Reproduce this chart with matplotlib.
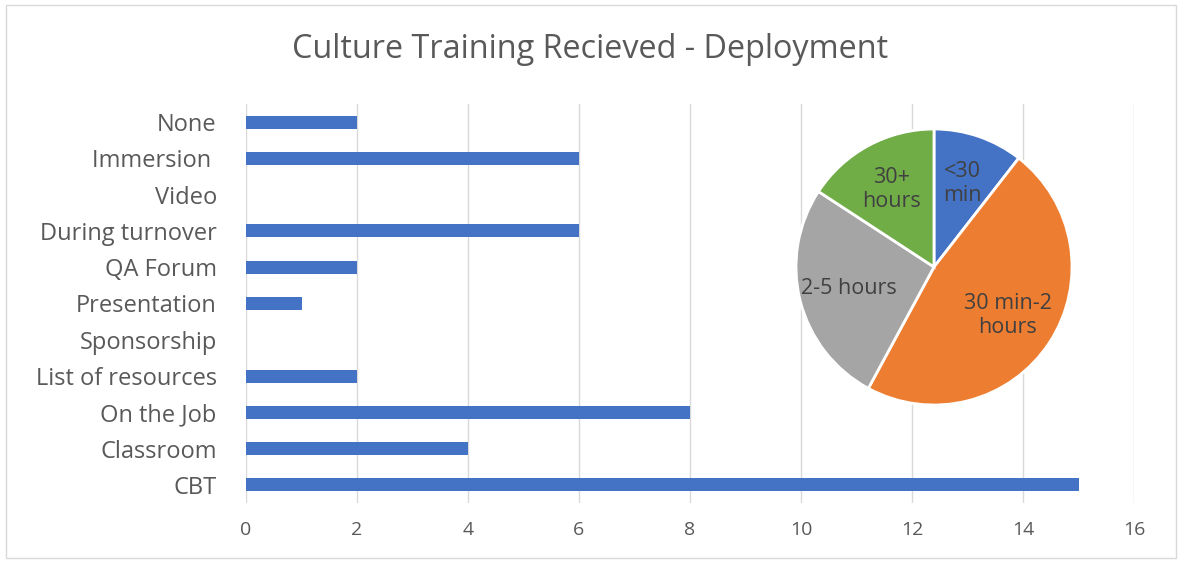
import matplotlib.pyplot as plt
from matplotlib.patches import Rectangle

# bar data (bottom to top)
categories = ["CBT", "Classroom", "On the Job", "List of resources", "Sponsorship",
              "Presentation", "QA Forum", "During turnover", "Video", "Immersion ", "None"]
counts = [15, 4, 8, 2, 0, 1, 2, 6, 0, 6, 2]

# pie data (clockwise from top)
pie_labels = ["<30\nmin", "30 min-2\nhours", "2-5 hours", "30+\nhours"]
pie_values = [2, 9, 5, 3]
pie_colors = ["#4472c4", "#ed7d31", "#a5a5a5", "#70ad47"]

text_col = "#595959"
plt.rcParams["font.family"] = ["Open Sans", "DejaVu Sans"]

W, H = 1181, 563
fig = plt.figure(figsize=(W / 100, H / 100), dpi=100)

# outer chart border
fig.patches.append(Rectangle((6 / W, 5 / H), 1170 / W, 553 / H, transform=fig.transFigure,
                             fill=False, edgecolor="#d9d9d9", linewidth=1))

fig.text(0.5, 1 - 50 / H, "Culture Training Recieved - Deployment", ha="center", va="center",
         fontsize=23.3, color=text_col)

# bar chart
ax = fig.add_axes([246 / W, 60 / H, 888 / W, 399 / H])
ax.barh(range(len(categories)), counts, height=0.36, color="#4472c4", zorder=3)
ax.set_xlim(0, 16)
ax.set_ylim(-0.5, len(categories) - 0.5)
ax.set_xticks(range(0, 17, 2))
ax.set_yticks(range(len(categories)))
ax.set_yticklabels(categories)
ax.grid(axis="x", color="#d9d9d9", linewidth=1, zorder=0)
for s in ax.spines.values():
    s.set_visible(False)
ax.tick_params(axis="y", length=0, pad=21, labelsize=17, labelcolor=text_col)
ax.tick_params(axis="x", length=0, pad=13, labelsize=14, labelcolor=text_col)

# pie chart inset
pax = fig.add_axes([796 / W, 158 / H, 276 / W, 276 / H])
wedges, texts = pax.pie(pie_values, labels=pie_labels, colors=pie_colors, startangle=90,
                        counterclock=False, labeldistance=0.64,
                        wedgeprops=dict(edgecolor="white", linewidth=2),
                        textprops=dict(fontsize=15.5, color="#404040"))
for t in texts:
    t.set_ha("center")
    t.set_va("center")
pax.set_xlim(-1, 1)
pax.set_ylim(-1, 1)
pax.set_aspect("equal")

fig.savefig("out.png", dpi=100)
